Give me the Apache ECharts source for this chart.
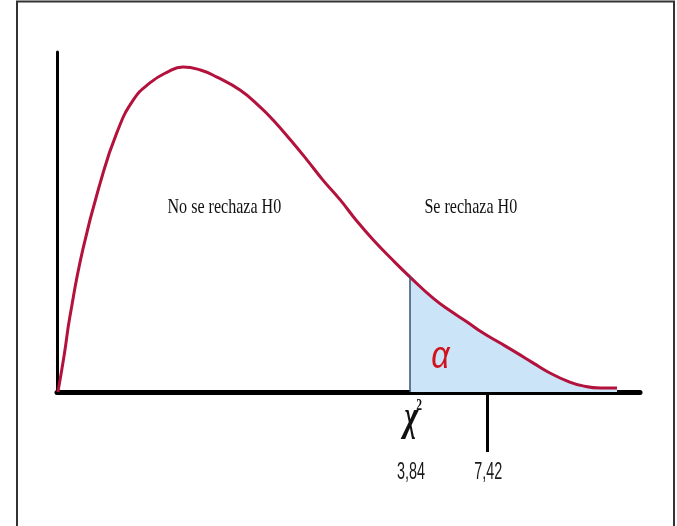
<!DOCTYPE html>
<html>
<head>
<meta charset="utf-8">
<script src="https://cdn.jsdelivr.net/npm/echarts@6/dist/echarts.min.js"></script>
<style>
  html, body { margin: 0; padding: 0; background: #fff; }
  #chart1 { width: 677px; height: 526px; }
</style>
</head>
<body>
<div id="chart1"></div>
<script>
// curve (x in schematic chi-square units, y relative height)
var curveX = [0.01, 0.08, 0.14, 0.28, 0.47, 0.65, 0.83, 1.01, 1.20, 1.37, 1.56, 1.74, 1.99, 2.21, 2.35, 2.54, 2.72, 2.89, 3.08, 3.26, 3.44, 3.64, 3.84, 4.09, 4.28, 4.46, 4.63, 4.82, 5.00, 5.18, 5.36, 5.55, 5.72, 5.91, 6.09];
var curveY = [0, 0.112, 0.221, 0.418, 0.615, 0.762, 0.859, 0.909, 0.941, 0.956, 0.947, 0.926, 0.888, 0.838, 0.800, 0.741, 0.682, 0.624, 0.565, 0.503, 0.447, 0.391, 0.338, 0.276, 0.238, 0.206, 0.174, 0.144, 0.115, 0.085, 0.056, 0.032, 0.018, 0.012, 0.012];

// critical value and tick marks under the axis
var critical = 3.84;
var tickValues = [3.84, 4.68];
var tickLabels = ['3,84', '7,42'];
var regionLabels = ['No se rechaza H0', 'Se rechaza H0'];

var curve = curveX.map(function (x, i) { return [x, curveY[i]]; });
var tail = curve.filter(function (p) { return p[0] >= critical; });
var critY = curveY[curveX.indexOf(critical)];

var myChart = echarts.init(document.getElementById('chart1'));

var option = {
    backgroundColor: '#fff',
    animation: false,
    grid: { left: 57, right: 37, top: 52, bottom: 134 },
    xAxis: {
        type: 'value', min: 0, max: 6.34,
        splitLine: { show: false },
        axisLine: { lineStyle: { color: '#000', width: 5 } },
        axisTick: {
            show: true, customValues: [tickValues[1]], length: 60,
            lineStyle: { color: '#000', width: 3 }
        },
        axisLabel: { show: false }
    },
    yAxis: {
        type: 'value', min: 0, max: 1,
        splitLine: { show: false },
        axisLine: { show: true, lineStyle: { color: '#000', width: 3 } },
        axisTick: { show: false },
        axisLabel: { show: false }
    },
    series: [
        {
            // rejection region
            type: 'line', data: tail, smooth: 0.5, symbol: 'none', z: 1,
            lineStyle: { width: 0 },
            areaStyle: { color: '#cce4f8', opacity: 1 },
            markLine: {
                silent: true, symbol: 'none', label: { show: false },
                lineStyle: { color: '#34506e', width: 1.5, type: 'solid' },
                data: [[{ coord: [critical, 0] }, { coord: [critical, critY] }]]
            }
        },
        {
            type: 'line', data: curve, smooth: 0.5, symbol: 'none', z: 3,
            lineStyle: { color: '#b3123d', width: 3 }
        }
    ]
};
myChart.setOption(option);

// annotations placed through the grid's scales
function px(x, y) { return myChart.convertToPixel({ gridIndex: 0 }, [x, y]); }

var pNo = px(1.82, 0.544);
var pSe = px(4.50, 0.544);
var pAlpha = px(4.17, 0.103);
var pCrit = px(critical, 0);
var labelEls = tickValues.map(function (v, i) {
    var p = px(v, 0);
    return {
        type: 'text', x: p[0] + 1, y: p[1] + 80, scaleX: 0.6, z: 10,
        style: {
            text: tickLabels[i], fill: '#1a1a1a', align: 'center', verticalAlign: 'middle',
            font: '24px "Liberation Sans", Arial, sans-serif'
        }
    };
});

myChart.setOption({
    graphic: [
        {
            type: 'rect', shape: { x: 17, y: 1.5, width: 657, height: 560 },
            style: { fill: 'none', stroke: '#333', lineWidth: 2 }, silent: true
        },
        {
            type: 'text', x: pNo[0], y: pNo[1], scaleX: 0.73, z: 10,
            style: {
                text: regionLabels[0], fill: '#111', align: 'center', verticalAlign: 'middle',
                font: '22px "Liberation Serif", "Times New Roman", serif'
            }
        },
        {
            type: 'text', x: pSe[0], y: pSe[1], scaleX: 0.73, z: 10,
            style: {
                text: regionLabels[1], fill: '#111', align: 'center', verticalAlign: 'middle',
                font: '22px "Liberation Serif", "Times New Roman", serif'
            }
        },
        {
            type: 'text', x: pAlpha[0], y: pAlpha[1], scaleX: 0.85, z: 10,
            style: {
                text: 'α', fill: '#d0121c', align: 'center', verticalAlign: 'middle',
                font: 'italic 38px "Liberation Sans", Arial, sans-serif'
            }
        },
        {
            type: 'text', x: pCrit[0] + 3, y: pCrit[1] + 27, scaleX: 0.68, z: 10,
            style: {
                text: '{c|χ}{s|2}', align: 'center', verticalAlign: 'middle',
                rich: {
                    c: { font: 'italic bold 44px "Liberation Serif", serif', fill: '#111' },
                    s: { font: 'bold 17px "Liberation Serif", serif', fill: '#111', verticalAlign: 'top', padding: [0, 0, 0, -3] }
                }
            }
        }
    ].concat(labelEls)
});
</script>
</body>
</html>
